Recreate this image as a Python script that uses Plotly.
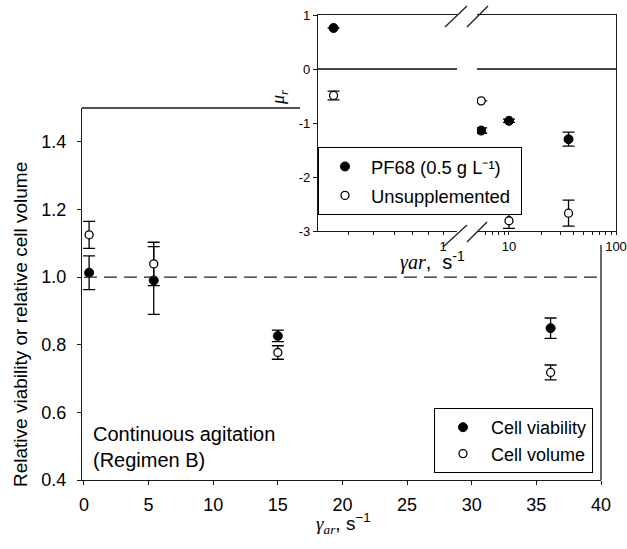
import plotly.graph_objects as go

# ---------------- data ----------------
shear_main = [0.4, 5.4, 15, 36.1]
viability = [1.013, 0.99, 0.826, 0.849]
viability_err = [0.05, 0.10, 0.017, 0.03]
cell_volume = [1.125, 1.039, 0.777, 0.718]
cell_volume_err = [0.04, 0.064, 0.02, 0.022]

shear_inset = [0.45, 5.5, 10, 36]
mu_pf68 = [0.76, -1.14, -0.96, -1.30]
mu_pf68_err = [0.0, 0.05, 0.03, 0.13]
mu_unsup = [-0.49, -0.59, -2.81, -2.67]
mu_unsup_err = [0.08, 0.0, 0.14, 0.24]

main_xticks = [0, 5, 10, 15, 20, 25, 30, 35, 40]
main_yticks = [0.4, 0.6, 0.8, 1.0, 1.2, 1.4]
inset_yticks = [-3, -2, -1, 0, 1]
inset_ytext = ["-3", "-2", "-1", "0", "1"]
inset_left_ticks = [0.4, 0.5, 0.6, 0.7, 0.8, 0.9, 1.0]
inset_left_text = ["", "", "", "", "", "", "1"]
inset_right_ticks = [6, 7, 8, 9, 10, 20, 30, 40, 50, 60, 70, 80, 90, 100]
inset_right_text = ["", "", "", "", "10", "", "", "", "", "", "", "", "", "100"]

FONT = "Liberation Sans, Arial, Helvetica, sans-serif"
W, H = 627, 549
ML, MR, MT, MB = 82, 10, 15, 69
PW, PH = W - ML - MR, H - MT - MB


def X(px):
    return (px - ML) / PW


def Y(py):
    return (H - MB - py) / PH


LC = "#1a1a1a"
fig = go.Figure()


def err(vals):
    return dict(type="data", array=vals, visible=True, color="black",
                thickness=1.3, width=6)


# main plot
fig.add_trace(go.Scatter(
    x=shear_main, y=viability, mode="markers", name="Cell viability",
    marker=dict(symbol="circle", size=9, color="black",
                line=dict(color="black", width=1)),
    error_y=err(viability_err), xaxis="x", yaxis="y", legend="legend"))
fig.add_trace(go.Scatter(
    x=shear_main, y=cell_volume, mode="markers", name="Cell volume",
    marker=dict(symbol="circle", size=8, color="white",
                line=dict(color="black", width=1.3)),
    error_y=err(cell_volume_err), xaxis="x", yaxis="y", legend="legend"))

# inset (broken log axis): left segment x2/y2, right segment x3/y3
n_left = 1
for xa, ya, sl, show in (("x2", "y2", slice(0, n_left), True),
                         ("x3", "y3", slice(n_left, None), False)):
    fig.add_trace(go.Scatter(
        x=shear_inset[sl], y=mu_pf68[sl], mode="markers",
        name="PF68 (0.5 g L\u207b\u00b9)",
        marker=dict(symbol="circle", size=9, color="black",
                    line=dict(color="black", width=1)),
        error_y=err(mu_pf68_err[sl]), xaxis=xa, yaxis=ya,
        legend="legend2", showlegend=show, legendgroup="pf"))
    fig.add_trace(go.Scatter(
        x=shear_inset[sl], y=mu_unsup[sl], mode="markers",
        name="Unsupplemented\u00a0",
        marker=dict(symbol="circle", size=8, color="white",
                    line=dict(color="black", width=1.3)),
        error_y=err(mu_unsup_err[sl]), xaxis=xa, yaxis=ya,
        legend="legend2", showlegend=show, legendgroup="un"))

axis_common = dict(showgrid=False, showline=True, linecolor=LC, linewidth=1.3,
                   ticks="outside", tickcolor=LC, tickwidth=1.2,
                   zeroline=False, automargin=False)

fig.update_layout(
    width=W, height=H,
    margin=dict(l=ML, r=MR, t=MT, b=MB, autoexpand=False),
    paper_bgcolor="white", plot_bgcolor="white",
    font=dict(family=FONT, color="black"),
    xaxis=dict(domain=[0, X(601)], anchor="y", range=[-0.15, 40],
               tickvals=main_xticks, ticklen=4,
               tickfont=dict(size=18), ticklabelstandoff=4, **axis_common),
    yaxis=dict(domain=[0, Y(108)], anchor="x", range=[0.4, 1.5],
               tickvals=main_yticks, tickformat=".1f", ticklen=4,
               tickfont=dict(size=18), ticklabelstandoff=7, **axis_common),
    xaxis2=dict(domain=[X(318), X(457)], anchor="y2", type="log",
                range=[-0.396, 0.044], tickvals=inset_left_ticks,
                ticktext=inset_left_text, ticklen=3, mirror=True,
                tickfont=dict(size=13), **axis_common),
    xaxis3=dict(domain=[X(477), X(616)], anchor="y3", type="log",
                range=[0.701, 2.0], tickvals=inset_right_ticks,
                ticktext=inset_right_text, ticklen=3, mirror=True,
                tickfont=dict(size=13), **axis_common),
    yaxis2=dict(domain=[Y(231), 1], anchor="x2", range=[-3, 1],
                tickvals=inset_yticks, ticktext=inset_ytext, ticklen=4,
                tickfont=dict(size=13), showgrid=False, showline=True,
                linecolor=LC, linewidth=1.3, ticks="outside", tickcolor=LC,
                automargin=False,
                zeroline=True, zerolinecolor="#4a4a4a", zerolinewidth=1.6),
    yaxis3=dict(domain=[Y(231), 1], anchor="x3", range=[-3, 1], side="right",
                showticklabels=False, ticks="", showgrid=False, showline=True,
                linecolor=LC, linewidth=1.3, automargin=False,
                zeroline=True, zerolinecolor="#4a4a4a", zerolinewidth=1.6),
    legend=dict(x=X(593), y=Y(473), xanchor="right", yanchor="bottom",
                bgcolor="white", bordercolor="black", borderwidth=1,
                font=dict(size=18), itemwidth=46,
                tracegroupgap=0),
    legend2=dict(x=X(318), y=Y(147), xanchor="left", yanchor="top",
                 bgcolor="white", bordercolor="black", borderwidth=1,
                 font=dict(size=18.4), itemwidth=42, tracegroupgap=2),
    showlegend=True,
)

gam = ("<span style=\"font-family:'Liberation Serif'\"><i>\u03b3<sub>ar</sub></i></span>")
gam_inset = ("<span style=\"font-family:'Liberation Serif'\"><i>\u03b3ar</i></span>")

fig.add_annotation(text="Relative viability or relative cell volume",
                   x=X(20), y=Y(325), xref="paper", yref="paper",
                   xanchor="center", yanchor="middle",
                   textangle=-90, showarrow=False, font=dict(size=19))
fig.add_annotation(text=gam + ", s<sup>\u22121</sup>",
                   x=X(343), y=Y(523), xref="paper", yref="paper",
                   xanchor="center", yanchor="middle",
                   showarrow=False, font=dict(size=19))
fig.add_annotation(text="Continuous agitation<br>(Regimen B)",
                   x=X(91), y=Y(447), xref="paper", yref="paper",
                   xanchor="left", yanchor="middle", align="left",
                   showarrow=False, font=dict(size=20))
fig.add_annotation(text="<span style=\"font-family:'Liberation Serif'\"><i>\u03bc<sub>r</sub></i></span>",
                   x=X(280), y=Y(98), xref="paper", yref="paper",
                   xanchor="center", yanchor="middle",
                   textangle=-90, showarrow=False, font=dict(size=18))
fig.add_annotation(text=gam_inset + ",\u00a0\u00a0s<sup>-1</sup>",
                   x=X(398), y=Y(261), xref="paper", yref="paper",
                   xanchor="left", yanchor="middle",
                   showarrow=False, font=dict(size=20))

# reference line at relative value 1
fig.add_shape(type="line", xref="x", yref="y", x0=0, x1=40, y0=1.0, y1=1.0,
              line=dict(color="#222222", width=1.3, dash="13px,7px"))

# partial frame of the main plot (rest is hidden by the inset)
fig.add_shape(type="line", xref="paper", yref="paper",
              x0=X(82), x1=X(300), y0=Y(108), y1=Y(108),
              line=dict(color=LC, width=1.3))
fig.add_shape(type="line", xref="paper", yref="paper",
              x0=X(601), x1=X(601), y0=0, y1=Y(245),
              line=dict(color=LC, width=1.3))

# axis-break marks
for (x0, y0, x1, y1) in [(445, 27, 467, 6), (467, 27, 488, 6),
                         (443, 247, 467, 225), (467, 242, 487, 222)]:
    fig.add_shape(type="line", xref="paper", yref="paper",
                  x0=X(x0), y0=Y(y0), x1=X(x1), y1=Y(y1),
                  line=dict(color=LC, width=1.2))

fig.write_html("out.html")
